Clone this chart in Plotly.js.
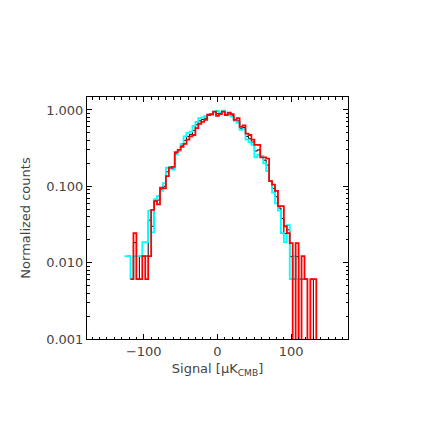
<!DOCTYPE html>
<html>
<head>
<meta charset="utf-8">
<script src="https://cdn.plot.ly/plotly-3.0.1.min.js"></script>
<style>html,body{margin:0;padding:0;background:#fff;}#plot{width:436px;height:436px;}</style>
</head>
<body>
<div id="plot"></div>
<script>
// Bin left edges (signal, µK_CMB), bin width 4
const binEdges = [-126,-122,-118,-114,-110,-106,-102,-98,-94,-90,-86,-82,-78,-74,-70,-66,-62,-58,-54,-50,-46,-42,-38,-34,-30,-26,-22,-18,-14,-10,-6,-2,2,6,10,14,18,22,26,30,34,38,42,46,50,54,58,62,66,70,74,78,82,86,90,94,98,102,106,110,114,118,122,126,130,134];
const binWidth = 4;

const cyanCounts = [0.0122,0.0122,0.0061,0.0122,0.0122,0.0122,0.0186,0.0186,0.048,0.025,0.068,0.075,0.087,0.11,0.175,0.18,0.166,0.26,0.29,0.36,0.45,0.50,0.52,0.62,0.70,0.78,0.80,0.83,0.88,0.86,0.95,0.97,0.93,0.98,0.90,0.85,0.82,0.72,0.68,0.55,0.56,0.41,0.38,0.35,0.24,0.26,0.25,0.20,0.158,0.117,0.083,0.060,0.048,0.0243,0.0186,0.031,0.0061,0.0122,0.0061,0,0,0,0,0,0,0];

const blackCounts = [0,0.0122,0.0061,0.0183,0.0061,0.0122,0.0122,0.0122,0.036,0.030,0.066,0.066,0.092,0.10,0.155,0.178,0.172,0.27,0.295,0.345,0.40,0.45,0.48,0.54,0.64,0.72,0.75,0.78,0.87,0.87,0.95,0.90,0.90,0.96,0.88,0.88,0.85,0.73,0.72,0.57,0.59,0.45,0.42,0.38,0.29,0.30,0.245,0.22,0.19,0.117,0.094,0.073,0.052,0.038,0.024,0.027,0.012,0.0061,0.012,0.0061,0.0061,0.0061,0,0.0061,0,0];

const redCounts = [0,0,0.0061,0.0244,0.0061,0.0061,0.0122,0.0061,0.0122,0.049,0.064,0.058,0.096,0.094,0.136,0.175,0.18,0.28,0.30,0.33,0.36,0.41,0.45,0.47,0.58,0.66,0.70,0.74,0.86,0.88,0.95,0.84,0.88,0.95,0.86,0.92,0.88,0.74,0.78,0.60,0.63,0.49,0.47,0.41,0.35,0.35,0.24,0.24,0.23,0.117,0.105,0.087,0.055,0.055,0.030,0.0243,0.018,0,0.018,0,0.0122,0.0061,0,0.0061,0.0061,0];

const yTickVals = [0.001,0.01,0.1,1];
const yTickText = ['0.001','0.010','0.100','1.000'];
const xTickVals = [-100,0,100];
const xTickText = ['−100','0','100'];

const FLOOR = 1e-6; // zero-count bins drop to below the axis
function stepTrace(counts, color, width) {
  let first = 0;
  while (first < counts.length && !(counts[first] > 0)) first++;
  const xs = [], ys = [];
  for (let i = first; i < counts.length; i++) {
    xs.push(binEdges[i]);
    ys.push(counts[i] > 0 ? counts[i] : FLOOR);
  }
  const last = binEdges[binEdges.length-1] + binWidth;
  xs.push(last); ys.push(counts[counts.length-1] > 0 ? counts[counts.length-1] : FLOOR);
  return {x: xs, y: ys, type: 'scatter', mode: 'lines',
          line: {shape: 'hv', color: color, width: width}, hoverinfo: 'skip'};
}

const yMinor = [];
[0.001,0.01,0.1,1].forEach(d => { for (let k = 2; k <= 9; k++) yMinor.push(d*k); });
const xMinor = [];
for (let v = -170; v <= 170; v += 10) if (v % 100 !== 0) xMinor.push(v);

const font = {family: 'DejaVu Sans, sans-serif', size: 13, color: '#444'};

const data = [
  stepTrace(blackCounts, '#000000', 1),
  stepTrace(cyanCounts, '#00ffff', 1.8),
  stepTrace(redCounts, '#ff0000', 1.8)
];

const layout = {
  width: 436, height: 436,
  margin: {l: 87, r: 88, t: 97, b: 97},
  paper_bgcolor: '#fff', plot_bgcolor: '#fff',
  showlegend: false,
  font: font,
  xaxis: {
    range: [-177, 177], showgrid: false, zeroline: false,
    showline: true, linecolor: '#000', linewidth: 1, mirror: 'ticks',
    ticks: 'inside', ticklen: 5, tickcolor: '#000', tickwidth: 1,
    tickvals: xTickVals, ticktext: xTickText,
    tickfont: font,
    minor: {tickvals: xMinor, ticks: 'inside', ticklen: 2.5, tickcolor: '#000', showgrid: false},
    title: {text: 'Signal [μK<sub>CMB</sub>]', font: font, standoff: 6}
  },
  yaxis: {
    type: 'log', range: [-3, 0.17], showgrid: false, zeroline: false,
    showline: true, linecolor: '#000', linewidth: 1, mirror: 'ticks',
    ticks: 'inside', ticklen: 5, tickcolor: '#000', tickwidth: 1,
    tickvals: yTickVals, ticktext: yTickText,
    tickfont: font,
    minor: {tickvals: yMinor, ticks: 'inside', ticklen: 2.5, tickcolor: '#000', showgrid: false},
    title: {text: 'Normalized counts', font: font, standoff: 12}
  }
};

Plotly.newPlot('plot', data, layout, {staticPlot: true, displayModeBar: false});
</script>
</body>
</html>
